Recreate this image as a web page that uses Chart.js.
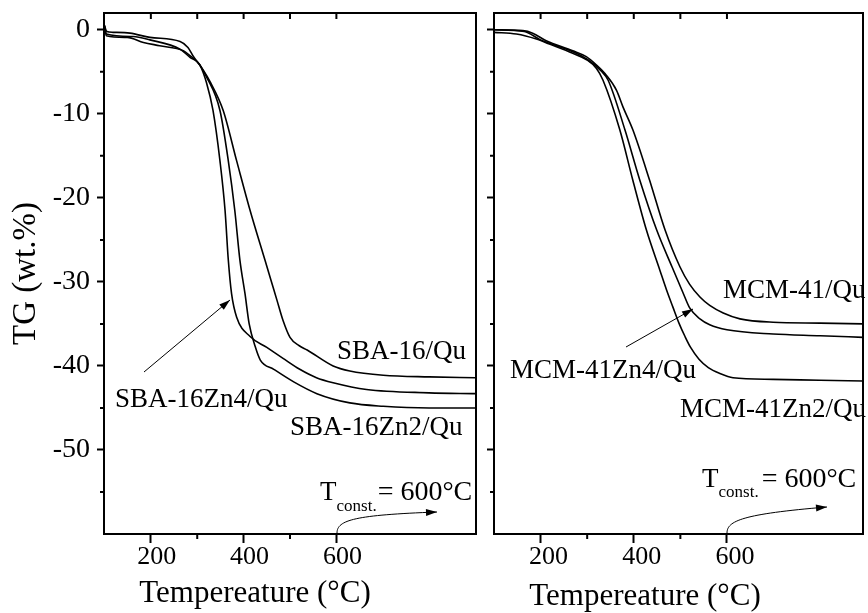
<!DOCTYPE html>
<html>
<head>
<meta charset="utf-8">
<script src="https://cdn.jsdelivr.net/npm/chart.js@4"></script>
<style>
  body { margin: 0; background: #fff; }
  .wrap { position: relative; width: 868px; height: 613px; }
  canvas { position: absolute; top: 0; }
  #sba { left: 0; }
  #mcm { left: 480px; }
</style>
</head>
<body>
<div class="wrap">
  <canvas id="sba" width="480" height="613"></canvas>
  <canvas id="mcm" width="388" height="613"></canvas>
</div>
<script>
// axis ticks
const xTicks = [200, 400, 600]
const xMinorTicks = [300, 500]
const xTopTicks = [200, 300, 400, 500, 600]
const yTicks = [0, -10, -20, -30, -40, -50]
const yMinorTicks = [-5, -15, -25, -35, -45, -55]

// SBA-16 series (temperature in °C, mass loss in wt.%)
const sba16Temp = [100, 104, 149, 184, 219, 270, 285, 300, 313, 327, 356, 385, 414, 446, 459, 472, 485, 500, 520, 537, 593, 629, 701, 800, 900]
const sba16TG   = [0.5, -0.7, -0.9, -1.5, -1.9, -2.5, -3.1, -3.8, -4.8, -6.1, -9.6, -15.6, -21.5, -27.4, -29.8, -32.2, -34.6, -36.6, -37.6, -38.1, -40.0, -40.6, -41.1, -41.3, -41.4]

const sba16Zn4Temp = [100, 105, 118, 155, 198, 263, 280, 291, 300, 306, 320, 334, 349, 360, 367, 374, 385, 414, 450, 485, 521, 557, 593, 665, 800, 900]
const sba16Zn4TG   = [0.5, -0.2, -0.3, -0.4, -0.9, -1.4, -2.1, -3.1, -3.8, -4.2, -6.3, -9.6, -15.6, -21.5, -27.4, -31.4, -34.2, -36.5, -37.8, -39.1, -40.4, -41.4, -42.0, -42.8, -43.2, -43.3]

const sba16Zn2Temp = [100, 104, 162, 198, 263, 285, 300, 320, 349, 367, 381, 392, 403, 412, 425, 436, 465, 508, 558, 629, 701, 800, 900]
const sba16Zn2TG   = [0.5, -0.5, -0.8, -1.2, -2.3, -3.3, -3.8, -5.6, -9.6, -15.6, -21.5, -27.4, -31.4, -35.0, -37.7, -39.3, -40.4, -41.9, -43.3, -44.4, -44.8, -45.0, -45.0]

// MCM-41 series
const mcm41Temp = [100, 162, 183, 212, 269, 298, 320, 341, 363, 377, 398, 434, 467, 499, 520, 542, 563, 592, 628, 699, 800, 892]
const mcm41TG   = [0, -0.1, -0.4, -1.3, -2.5, -3.2, -4.2, -5.4, -7.2, -9.2, -11.9, -17.9, -23.8, -28.2, -30.3, -31.8, -32.8, -33.7, -34.4, -34.8, -34.9, -35.0]

const mcm41Zn4Temp = [100, 165, 200, 269, 300, 330, 345, 381, 413, 449, 482, 505, 520, 542, 563, 600, 699, 800, 892]
const mcm41Zn4TG   = [0, -0.2, -1.2, -2.6, -3.5, -4.9, -6.0, -11.9, -17.9, -23.8, -28.2, -31.2, -33.1, -34.4, -35.1, -35.7, -36.2, -36.4, -36.6]

const mcm41Zn2Temp = [100, 148, 191, 219, 269, 300, 320, 334, 370, 398, 427, 456, 470, 484, 497, 510, 522, 540, 560, 585, 613, 699, 800, 892]
const mcm41Zn2TG   = [-0.3, -0.5, -1.1, -1.7, -2.8, -3.6, -4.6, -6.0, -11.9, -17.9, -23.8, -28.6, -30.9, -33.0, -34.9, -36.5, -37.8, -39.2, -40.2, -40.9, -41.4, -41.6, -41.7, -41.8]

const serif = '"Liberation Serif", "Times New Roman", serif'

function line(temp, tg) {
  return {
    data: temp.map((t, i) => ({ x: t, y: tg[i] })),
    borderColor: '#000',
    borderWidth: 1.6,
    pointRadius: 0,
    fill: false,
    cubicInterpolationMode: 'monotone'
  }
}

function arrowHead(ctx, x, y, angle) {
  ctx.save()
  ctx.translate(x, y)
  ctx.rotate(angle)
  ctx.beginPath()
  ctx.moveTo(0, 0)
  ctx.lineTo(-11, -3.5)
  ctx.lineTo(-11, 3.5)
  ctx.closePath()
  ctx.fill()
  ctx.restore()
}

function arrow(ctx, x1, y1, x2, y2) {
  ctx.beginPath()
  ctx.moveTo(x1, y1)
  ctx.lineTo(x2, y2)
  ctx.stroke()
  arrowHead(ctx, x2, y2, Math.atan2(y2 - y1, x2 - x1))
}

// frame, minor ticks and text labels drawn over each panel
function decorations(note) {
  return {
    id: 'decorations',
    afterDraw(chart) {
      const { ctx, chartArea: a, scales: { x, y } } = chart
      ctx.save()
      ctx.strokeStyle = '#000'
      ctx.fillStyle = '#000'
      ctx.lineWidth = 2
      ctx.lineCap = 'square'
      ctx.beginPath()
      ctx.moveTo(a.left, a.top)
      ctx.lineTo(a.right, a.top)
      ctx.lineTo(a.right, a.bottom)
      ctx.stroke()

      ctx.lineCap = 'butt'
      ctx.beginPath()
      xTopTicks.forEach(v => {
        const px = x.getPixelForValue(v)
        ctx.moveTo(px, a.top)
        ctx.lineTo(px, a.top + 6)
      })
      xMinorTicks.forEach(v => {
        const px = x.getPixelForValue(v)
        ctx.moveTo(px, a.bottom)
        ctx.lineTo(px, a.bottom + 5)
      })
      yMinorTicks.forEach(v => {
        const py = y.getPixelForValue(v)
        ctx.moveTo(a.left, py)
        ctx.lineTo(a.left - 4, py)
      })
      ctx.stroke()

      // sample names
      ctx.font = '27px ' + serif
      ctx.textAlign = 'left'
      ctx.textBaseline = 'alphabetic'
      note.labels.forEach(l => ctx.fillText(l.text, l.x, l.y))

      ctx.lineWidth = 1
      arrow(ctx, note.arrow[0], note.arrow[1], note.arrow[2], note.arrow[3])

      // isothermal step note
      const t = note.tconst
      ctx.font = '27px ' + serif
      ctx.fillText('T', t.x, t.y)
      let cx = t.x + ctx.measureText('T').width
      ctx.font = '17px ' + serif
      ctx.fillText('const.', cx, t.y + t.sub)
      cx += ctx.measureText('const.').width + t.gap
      ctx.font = '28px ' + serif
      ctx.fillText('= 600°C', cx, t.y)

      const c = note.curve
      ctx.beginPath()
      ctx.moveTo(c[0], c[1])
      ctx.bezierCurveTo(c[2], c[3], c[4], c[5], c[6], c[7])
      ctx.stroke()
      arrowHead(ctx, c[6], c[7], Math.atan2(c[7] - c[5], c[6] - c[4]))

      ctx.font = '31px ' + serif
      ctx.textAlign = 'center'
      ctx.fillText('Tempereature (°C)', note.xTitle[0], note.xTitle[1])
      ctx.restore()
    }
  }
}

function panel(id, datasets, cfg) {
  return new Chart(document.getElementById(id), {
    type: 'line',
    data: { datasets },
    options: {
      responsive: false,
      animation: false,
      devicePixelRatio: 1,
      layout: { padding: { top: 13, right: cfg.padRight, left: 0, bottom: 0 } },
      plugins: { legend: { display: false }, tooltip: { enabled: false } },
      scales: {
        x: {
          type: 'linear',
          min: cfg.xMin,
          max: cfg.xMax,
          afterBuildTicks: s => { s.ticks = xTicks.map(v => ({ value: v })) },
          afterFit: s => { s.height = 79; s.paddingLeft = 0; s.paddingRight = 0 },
          grid: { drawOnChartArea: false, tickLength: 9, tickWidth: 2, tickColor: '#000' },
          border: { color: '#000', width: 2 },
          ticks: {
            autoSkip: false, maxRotation: 0, padding: 1, labelOffset: cfg.labelShift, color: '#000',
            font: { family: serif, size: 26, lineHeight: 1 }
          }
        },
        y: {
          min: -60,
          max: 2,
          afterBuildTicks: s => { s.ticks = yTicks.map(v => ({ value: v })) },
          afterFit: s => { s.width = cfg.yWidth; s.paddingTop = 0; s.paddingBottom = 0 },
          grid: { drawOnChartArea: false, tickLength: 7, tickWidth: 2, tickColor: '#000' },
          border: { color: '#000', width: 2 },
          ticks: {
            display: cfg.yLabels, padding: 7, color: '#000',
            font: { family: serif, size: 28 }
          },
          title: {
            display: cfg.yLabels, text: 'TG (wt.%)', color: '#000',
            font: { family: serif, size: 33 }, padding: { top: 7, bottom: 0 }
          }
        }
      }
    },
    plugins: [decorations(cfg.note)]
  })
}

panel('sba', [
  line(sba16Temp, sba16TG),
  line(sba16Zn4Temp, sba16Zn4TG),
  line(sba16Zn2Temp, sba16Zn2TG)
], {
  xMin: 99, xMax: 901, padRight: 4, yWidth: 104, yLabels: true, labelShift: 6,
  note: {
    labels: [
      { text: 'SBA-16/Qu', x: 337, y: 359 },
      { text: 'SBA-16Zn4/Qu', x: 115, y: 407 },
      { text: 'SBA-16Zn2/Qu', x: 290, y: 435 }
    ],
    arrow: [144, 372, 230, 300],
    tconst: { x: 320, y: 500, sub: 11, gap: 1 },
    curve: [337, 533, 337, 520, 355, 515, 437, 512],
    xTitle: [255, 602]
  }
})

panel('mcm', [
  line(mcm41Temp, mcm41TG),
  line(mcm41Zn4Temp, mcm41Zn4TG),
  line(mcm41Zn2Temp, mcm41Zn2TG)
], {
  xMin: 100, xMax: 892, padRight: 5, yWidth: 14, yLabels: false, labelShift: 8,
  note: {
    labels: [
      { text: 'MCM-41/Qu', x: 243, y: 298 },
      { text: 'MCM-41Zn4/Qu', x: 30, y: 378 },
      { text: 'MCM-41Zn2/Qu', x: 200, y: 417 }
    ],
    arrow: [146, 347, 213, 309],
    tconst: { x: 222, y: 487, sub: 10, gap: 3 },
    curve: [247, 533, 247, 521, 262, 514, 347, 507],
    xTitle: [165, 605]
  }
})
</script>
</body>
</html>
